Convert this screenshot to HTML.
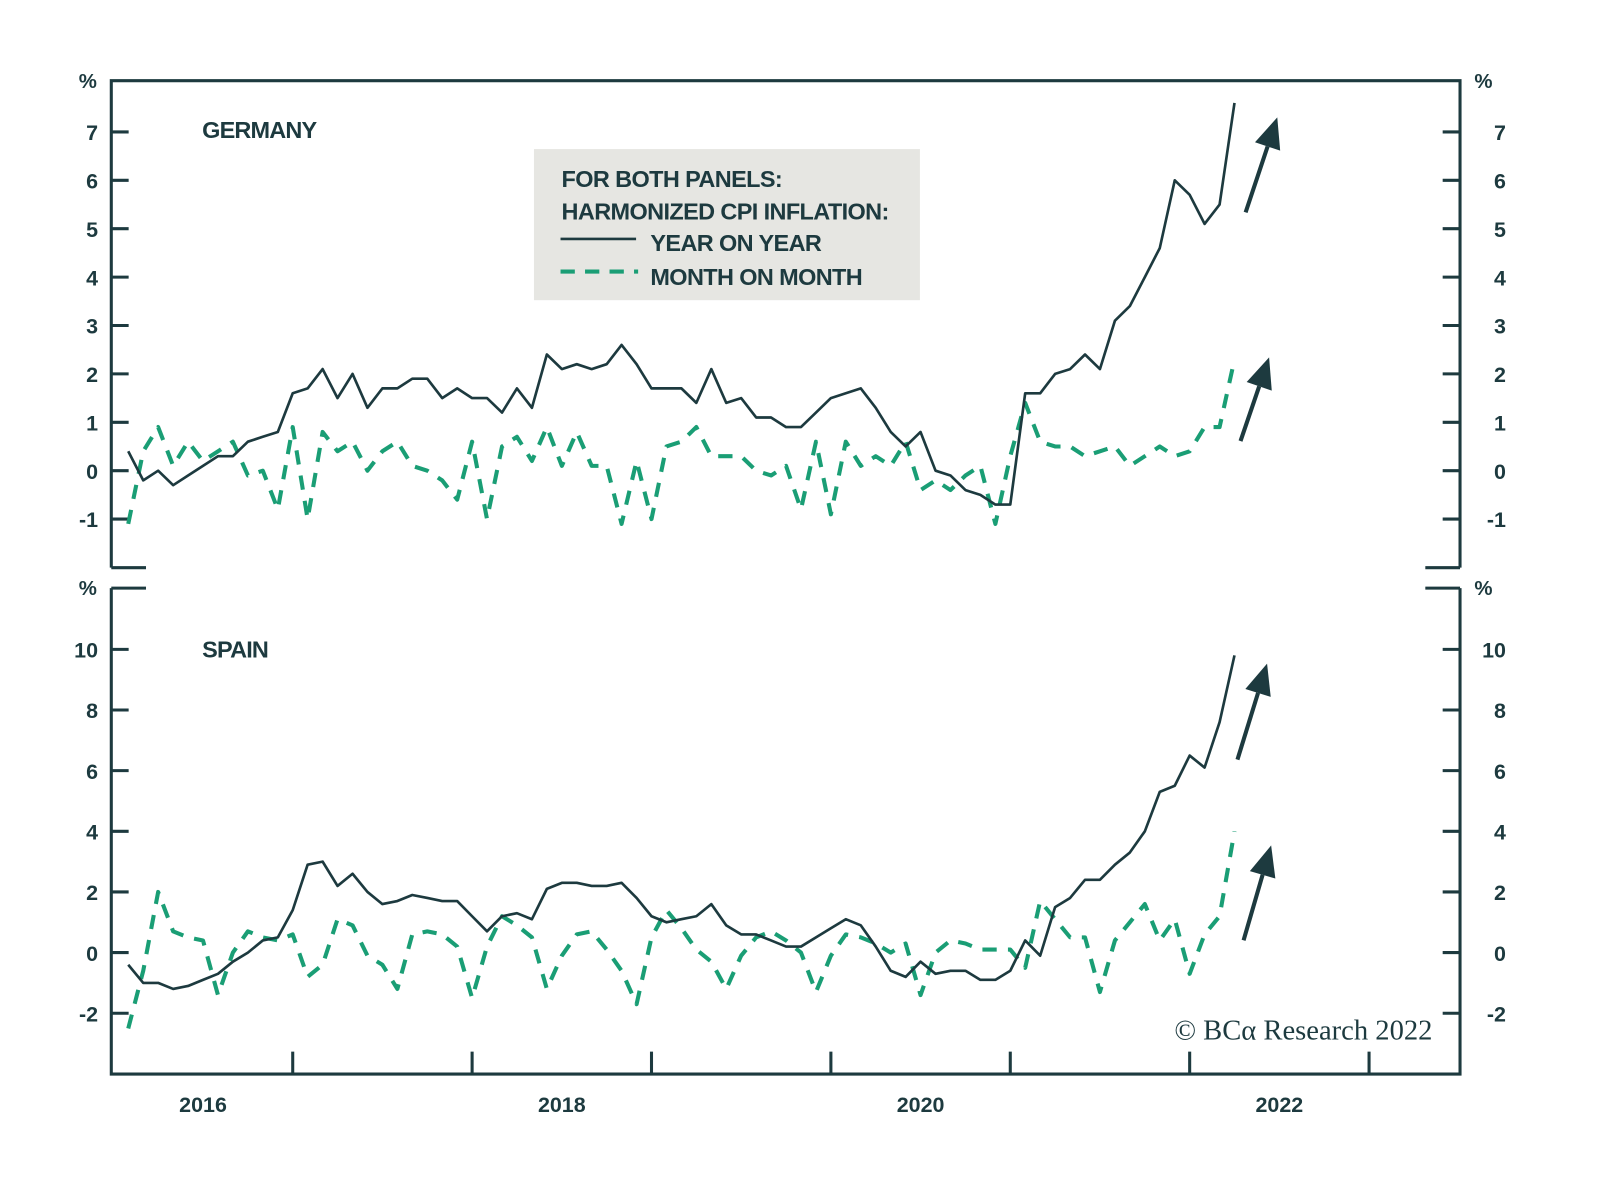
<!DOCTYPE html>
<html><head><meta charset="utf-8"><style>
html,body{margin:0;padding:0;background:#fff;}
svg{display:block;}
text{font-family:"Liberation Sans",sans-serif;fill:#1d3a3f;}
</style></head><body>
<svg id="chart" width="1600" height="1191" viewBox="0 0 1600 1191"><g id="root" transform="scale(1.021)"></g></svg>
<script>
const deYoY=[0.4,-0.2,0.0,-0.3,-0.1,0.1,0.3,0.3,0.6,0.7,0.8,1.6,1.7,2.1,1.5,2.0,1.3,1.7,1.7,1.9,1.9,1.5,1.7,1.5,1.5,1.2,1.7,1.3,2.4,2.1,2.2,2.1,2.2,2.6,2.2,1.7,1.7,1.7,1.4,2.1,1.4,1.5,1.1,1.1,0.9,0.9,1.2,1.5,1.6,1.7,1.3,0.8,0.5,0.8,0.0,-0.1,-0.4,-0.5,-0.7,-0.7,1.6,1.6,2.0,2.1,2.4,2.1,3.1,3.4,4.0,4.6,6.0,5.7,5.1,5.5,7.6];
const deMoM=[-1.1,0.4,0.9,0.1,0.6,0.2,0.4,0.6,-0.1,0.0,-0.8,0.9,-1.0,0.8,0.4,0.6,0.0,0.4,0.6,0.1,0.0,-0.2,-0.6,0.6,-1.0,0.5,0.7,0.2,0.9,0.1,0.8,0.1,0.1,-1.1,0.2,-1.0,0.5,0.6,0.9,0.3,0.3,0.3,0.0,-0.1,0.1,-0.8,0.6,-0.9,0.6,0.1,0.3,0.1,0.6,-0.4,-0.2,-0.4,-0.1,0.1,-1.1,0.3,1.4,0.6,0.5,0.5,0.3,0.4,0.5,0.1,0.3,0.5,0.3,0.4,0.9,0.9,2.3];
const esYoY=[-0.4,-1.0,-1.0,-1.2,-1.1,-0.9,-0.7,-0.3,0.0,0.4,0.5,1.4,2.9,3.0,2.2,2.6,2.0,1.6,1.7,1.9,1.8,1.7,1.7,1.2,0.7,1.2,1.3,1.1,2.1,2.3,2.3,2.2,2.2,2.3,1.8,1.2,1.0,1.1,1.2,1.6,0.9,0.6,0.6,0.4,0.2,0.2,0.5,0.8,1.1,0.9,0.2,-0.6,-0.8,-0.3,-0.7,-0.6,-0.6,-0.9,-0.9,-0.6,0.4,-0.1,1.5,1.8,2.4,2.4,2.9,3.3,4.0,5.3,5.5,6.5,6.1,7.6,9.8];
const esMoM=[-2.5,-0.6,2.0,0.7,0.5,0.4,-1.4,0.0,0.7,0.5,0.4,0.6,-0.8,-0.4,1.1,0.9,-0.1,-0.4,-1.2,0.6,0.7,0.6,0.2,-1.5,0.2,1.2,0.9,0.5,-1.2,-0.1,0.6,0.7,0.1,-0.6,-1.7,0.5,1.4,0.8,0.1,-0.3,-1.2,-0.1,0.5,0.7,0.4,0.0,-1.3,-0.1,0.6,0.5,0.3,0.0,0.3,-1.4,0.0,0.4,0.3,0.1,0.1,0.1,-0.5,1.7,1.1,0.5,0.5,-1.3,0.4,1.0,1.6,0.4,1.1,-0.7,0.6,1.2,4.0];
const topTicks=[-1,0,1,2,3,4,5,6,7];
const botTicks=[-2,0,2,4,6,8,10];
const yearTicks=[2017,2018,2019,2020,2021,2022,2023];
const yearLabels=[2016,2018,2020,2022];

const NS="http://www.w3.org/2000/svg";
const root=document.getElementById('root');
const DARK="#1d3a3f", GREEN="#1a9e75";
function mk(tag,attrs,parent){const e=document.createElementNS(NS,tag);for(const k in attrs)e.setAttribute(k,attrs[k]);(parent||root).appendChild(e);return e;}
const L=109,R=1430;
const xYear=t=>111+(t-2016)*175.7;
const xIdx=i=>xYear(2016+(i+1)/12);
const yTop=v=>461-v*47.4;
const yBot=v=>933-v*29.7;

let p=mk('path',{d:`M${L},556 V79 H${R} V556 M${L},556 H143 M${R},556 H1396 M${L},576 H143 M${R},576 H1396 M${L},576 V1052 H${R} V576`,fill:'none',stroke:DARK,'stroke-width':3});



function yAxis(ticks,yf,name){
  ticks.forEach(v=>{
    const y=yf(v);
    let t=mk('line',{x1:L,x2:L+17,y1:y,y2:y,stroke:DARK,'stroke-width':3});
    
    
    t=mk('line',{x1:R-17,x2:R,y1:y,y2:y,stroke:DARK,'stroke-width':3});
    
    
    let s=mk('text',{x:96,y:y+8,'text-anchor':'end','font-size':21,'font-weight':'bold'});s.textContent=v;
    
    
    s=mk('text',{x:1475,y:y+8,'text-anchor':'end','font-size':21,'font-weight':'bold'});s.textContent=v;
    
    
  });
}
yAxis(topTicks,yTop,'germany-y');
yAxis(botTicks,yBot,'spain-y');
[[86,86],[86,583],[1453,86],[1453,583]].forEach(([x,y])=>{
  const s=mk('text',{x:x,y:y,'text-anchor':'middle','font-size':20,'font-weight':'bold'});s.textContent='%';
  
  
});
yearTicks.forEach(t=>{
  const x=xYear(t);
  const l=mk('line',{x1:x,x2:x,y1:1030,y2:1052,stroke:DARK,'stroke-width':3});
  
  
});
yearLabels.forEach(t=>{
  const s=mk('text',{x:xYear(t+0.5),y:1089,'text-anchor':'middle','font-size':21,'font-weight':'bold'});s.textContent=t;
  
  
});

function line(data,yf,dashed,name){
  const d=data.map((v,i)=>(i?'L':'M')+xIdx(i).toFixed(1)+','+yf(v).toFixed(1)).join(' ');
  const a={d:d,fill:'none',stroke:dashed?GREEN:DARK,'stroke-width':dashed?4:2.6,'stroke-linejoin':'round'};
  if(dashed){a['stroke-dasharray']='14,11';}
  const e=mk('path',a);
  
  
}
line(deMoM,yTop,true,'germany-mom-line');
line(deYoY,yTop,false,'germany-yoy-line');
line(esMoM,yBot,true,'spain-mom-line');
line(esYoY,yBot,false,'spain-yoy-line');

function arrow(x1,y1,x2,y2){
  const g=mk('g',{});
  
  
  const dx=x2-x1,dy=y2-y1,len=Math.hypot(dx,dy),ux=dx/len,uy=dy/len;
  const bx=x2-ux*30,by=y2-uy*30;
  mk('line',{x1:x1,y1:y1,x2:bx,y2:by,stroke:DARK,'stroke-width':4},g);
  mk('polygon',{points:`${x2},${y2} ${bx-uy*13},${by+ux*13} ${bx+uy*13},${by-ux*13}`,fill:DARK},g);
}
arrow(1220,208,1251,115);
arrow(1215,432,1243,350);
arrow(1212,744,1241,650);
arrow(1218,921,1245,828);

let t=mk('text',{x:198,y:135,'font-size':23,'font-weight':'bold','letter-spacing':'-0.8'});t.textContent='GERMANY';


t=mk('text',{x:198,y:644,'font-size':23,'font-weight':'bold','letter-spacing':'-0.8'});t.textContent='SPAIN';



const lg=mk('g',{});


mk('rect',{x:523,y:146,width:378,height:148,fill:'#e6e6e2'},lg);
[['FOR BOTH PANELS:',550,183],['HARMONIZED CPI INFLATION:',550,215],['YEAR ON YEAR',637,246],['MONTH ON MONTH',637,279]].forEach(([s,x,y])=>{
  const e=mk('text',{x:x,y:y,'font-size':23,'font-weight':'bold','letter-spacing':'-0.6'},lg);e.textContent=s;
});
mk('line',{x1:549,x2:623,y1:234,y2:234,stroke:DARK,'stroke-width':2.6},lg);
mk('line',{x1:549,x2:625,y1:266,y2:266,stroke:GREEN,'stroke-width':4,'stroke-dasharray':'14,10'},lg);

t=mk('text',{x:1403,y:1018,'text-anchor':'end','font-size':28,style:'font-family:"Liberation Serif",serif'});t.textContent='© BCα Research 2022';


</script>
</body></html>
